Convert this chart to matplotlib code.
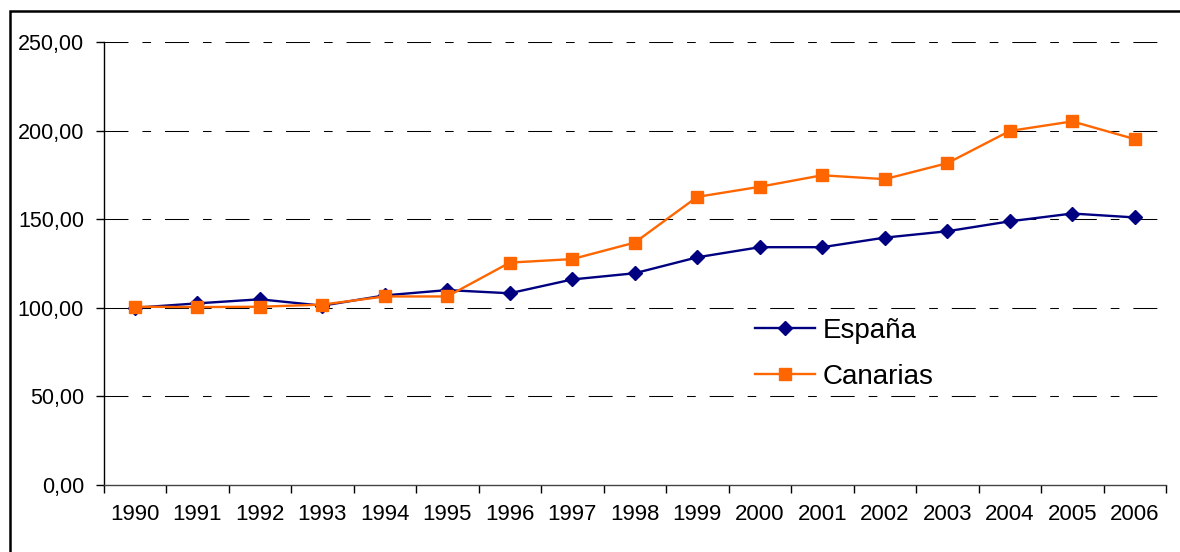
import matplotlib.pyplot as plt
from matplotlib.patches import Rectangle
from matplotlib.ticker import FuncFormatter, MultipleLocator, FixedLocator

plt.rcParams['font.family'] = ['Liberation Sans', 'DejaVu Sans']

# indice base 1990 = 100
years = ['1990', '1991', '1992', '1993', '1994', '1995', '1996', '1997', '1998',
         '1999', '2000', '2001', '2002', '2003', '2004', '2005', '2006']
espana = [100.0, 102.5, 104.8, 101.2, 107.0, 110.0, 108.2, 116.0, 119.5,
          128.5, 134.2, 134.2, 139.6, 143.2, 148.8, 153.2, 151.0]
canarias = [100.6, 100.4, 100.6, 101.8, 106.4, 106.4, 125.5, 127.5, 136.8,
            162.6, 168.3, 174.8, 172.6, 181.6, 199.8, 205.2, 195.2]

fig = plt.figure(figsize=(11.8, 5.52), dpi=100)
ax = fig.add_axes([103.5 / 1180, 1 - 485 / 552, (1166 - 103.5) / 1180, (485 - 42) / 552])

x = list(range(len(years)))
ax.plot(x, espana, color='#000080', lw=1.7, marker='D', ms=7, label='España', zorder=3)
ax.plot(x, canarias, color='#FF6600', lw=1.7, marker='s', ms=9, label='Canarias', zorder=3)

ax.set_xlim(-0.5, len(years) - 0.5)
ax.set_ylim(0, 250)

# lineas de division (raya larga, raya corta)
for v in [50, 100, 150, 200, 250]:
    ax.axhline(v, color='black', lw=0.75, dashes=(23, 13.4, 8.3, 13.4), zorder=1)

ax.yaxis.set_major_locator(MultipleLocator(50))
ax.yaxis.set_major_formatter(FuncFormatter(lambda v, p: ('%.2f' % v).replace('.', ',')))
ax.set_xticks(x)
ax.set_xticklabels(years)
ax.xaxis.set_minor_locator(FixedLocator([i - 0.5 for i in range(len(years) + 1)]))

ax.tick_params(axis='x', which='major', length=0, pad=14, labelsize=16)
ax.tick_params(axis='x', which='minor', length=6, width=1, direction='out')
ax.tick_params(axis='y', length=6, width=1, direction='out', pad=8, labelsize=15.5)

for side in ['top', 'right']:
    ax.spines[side].set_visible(False)
ax.spines['left'].set_linewidth(1)
ax.spines['bottom'].set_linewidth(1)
ax.spines['bottom'].set_color('#444444')

ax.legend(loc='center left', bbox_to_anchor=(755 / 1180, 1 - 354 / 552),
          bbox_transform=fig.transFigure, frameon=False, fontsize=20,
          handlelength=2.15, handletextpad=0.3, labelspacing=0.72, borderpad=0,
          borderaxespad=0)

# marco exterior del grafico
fig.patches.append(Rectangle((10 / 1180, -0.1), 1.2, 1.1 - 11 / 552,
                             transform=fig.transFigure, fill=False,
                             edgecolor='black', lw=1.8))

fig.savefig('out.png', dpi=100)
